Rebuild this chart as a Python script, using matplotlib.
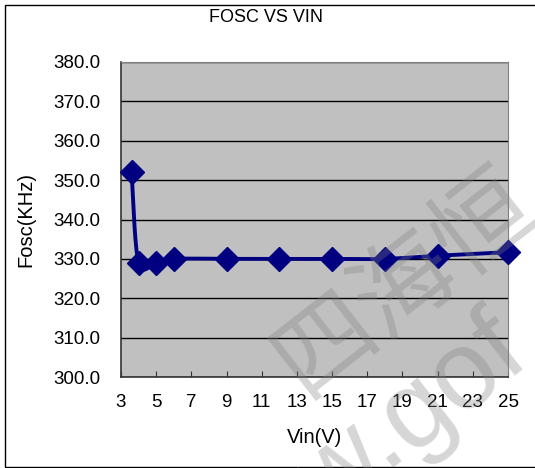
import numpy as np
import matplotlib
matplotlib.use("Agg")
import matplotlib.pyplot as plt
from matplotlib.patches import Rectangle

vin = [3.6, 4.0, 5.0, 6.0, 9.0, 12.0, 15.0, 18.0, 21.0, 25.0]
fosc = [352.0, 329.0, 329.0, 330.0, 330.0, 330.0, 330.0, 330.0, 330.8, 331.7]
xticks = [3, 5, 7, 9, 11, 13, 15, 17, 19, 21, 23, 25]
yticks = [300, 310, 320, 330, 340, 350, 360, 370, 380]

plt.rcParams['font.family'] = ['Liberation Sans', 'DejaVu Sans']

W, H = 535, 468
fig = plt.figure(figsize=(W / 100, H / 100), dpi=100)
ax = fig.add_axes([121 / W, 1 - 377 / H, (508 - 121) / W, (377 - 62) / H])
ax.set_facecolor('#c0c0c0')


def smooth(xs, ys, n=30):
    P = np.column_stack([xs, ys]).astype(float)
    out = []
    for i in range(len(P) - 1):
        p0 = P[i - 1] if i > 0 else P[i]
        p1, p2 = P[i], P[i + 1]
        p3 = P[i + 2] if i + 2 < len(P) else P[i + 1]
        c1 = p1 + (p2 - p0) / 6
        c2 = p2 - (p3 - p1) / 6
        t = np.linspace(0, 1, n)[:, None]
        seg = (1 - t) ** 3 * p1 + 3 * (1 - t) ** 2 * t * c1 + 3 * (1 - t) * t ** 2 * c2 + t ** 3 * p2
        out.append(seg if i == 0 else seg[1:])
    S = np.vstack(out)
    return S[:, 0], S[:, 1]


sx, sy = smooth(vin, fosc)
ax.plot(sx, sy, color='#000080', lw=2.8, zorder=3, solid_capstyle='round')
ax.plot(vin, fosc, linestyle='none', marker='D', markersize=12,
        color='#000080', zorder=4, clip_on=False)

ax.set_xlim(3, 25)
ax.set_ylim(300, 380)
ax.set_xticks(xticks)
ax.set_xticklabels([str(v) for v in xticks])
ax.set_yticks(yticks)
ax.set_yticklabels([f"{v:.1f}" for v in yticks])
ax.yaxis.grid(True, color='black', lw=1)
ax.set_axisbelow(True)
ax.tick_params(axis='x', direction='in', length=4, labelsize=13.5, pad=12.5, color='#333333')
ax.tick_params(axis='y', length=0, labelsize=13.5, pad=15)
for s in ['top', 'right']:
    ax.spines[s].set_color('#808080')
for s in ['left', 'bottom']:
    ax.spines[s].set_color('#333333')
    ax.spines[s].set_linewidth(1.2)

ax.set_xlabel('Vin(V)', fontsize=14.5, labelpad=12)
ax.set_ylabel('Fosc(KHz)', fontsize=14.5, labelpad=13)
fig.text(266 / W, 1 - 18 / H, 'FOSC VS VIN', ha='center', va='center', fontsize=13)

# chart frame
fig.patches.append(Rectangle((5 / W, 1.5 / H), 1.2, 462 / H,
                             transform=fig.transFigure, fill=False, ec='black', lw=1))

# watermark
wm = dict(color='#808080', alpha=0.32, rotation=38, rotation_mode='anchor', zorder=10)
fig.text(405 / W, 1 - 283 / H, '四海恒', fontsize=72, ha='center', va='center',
         family=['Noto Sans CJK SC'], **wm)
fig.text(410 / W, 1 - 455 / H, 'www.', fontsize=80, ha='right', va='baseline', **wm)
fig.text(410 / W, 1 - 455 / H, 'gof', fontsize=80, ha='left', va='baseline', **wm)

fig.savefig('out.png', dpi=100)
